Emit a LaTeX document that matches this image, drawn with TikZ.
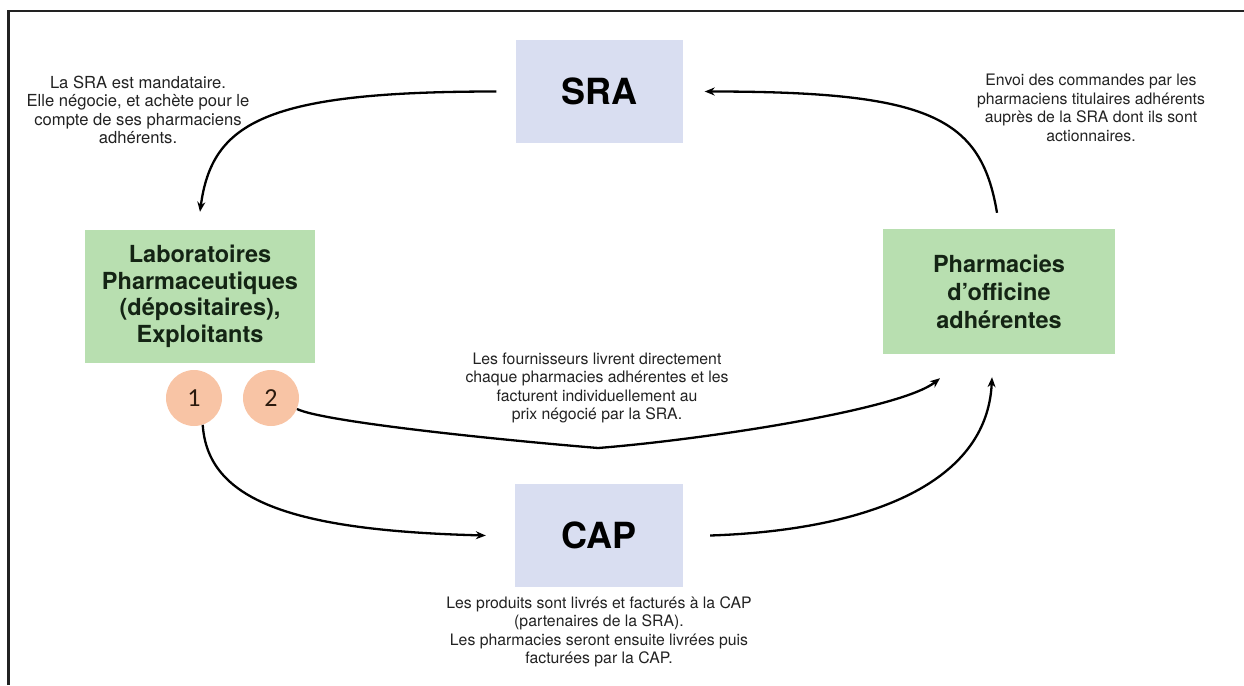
\documentclass[tikz,border=0pt]{standalone}
\usepackage{fontspec}
\setmainfont{TeX Gyre Heros}
\newfontfamily\numfont{Carlito}
\usetikzlibrary{arrows.meta}

\definecolor{lavender}{HTML}{D9DEF1}
\definecolor{leaf}{HTML}{B8DFB0}
\definecolor{peach}{HTML}{F8C4A5}
\definecolor{ink}{HTML}{222222}
\definecolor{boxink}{HTML}{142414}
\definecolor{numink}{HTML}{2B1A0E}

\begin{document}
\begin{tikzpicture}[x=1pt,y=-1pt,
  hub/.style={fill=lavender, inner sep=0pt, minimum width=167pt, minimum height=103pt,
    font=\bfseries\fontsize{36}{40}\selectfont, text=black},
  member/.style={fill=leaf, inner sep=0pt, align=center,
    font=\bfseries\fontsize{23.5}{26.5}\selectfont, text=boxink},
  badge/.style={circle, fill=peach, minimum size=56pt, inner sep=0pt,
    font=\numfont\fontsize{26}{26}\selectfont, text=numink},
  note/.style={align=center, inner sep=0pt, font=\fontsize{15.8}{18.5}\selectfont, text=ink},
  flow/.style={line width=2.3pt, draw=black, -{Stealth[length=10pt,width=8pt]}}]

\useasboundingbox (0,0) rectangle (1244,685);

% page frame (top and left rules)
\draw[line width=2.2pt, draw=ink] (8.5,685) -- (8.5,11) -- (1244,11);

% actors
\node[hub] (sra) at (599,91.5) {SRA};
\node[hub, minimum width=168pt] (cap) at (599,535.5) {CAP};
\node[member, minimum width=230pt, minimum height=133pt] (lab) at (200,296.5)
  {Laboratoires\\Pharmaceutiques\\(dépositaires),\\Exploitants};
\node[member, minimum width=232pt, minimum height=125pt,
  font=\bfseries\fontsize{23.5}{28}\selectfont] (pharm) at (999,291.5)
  {Pharmacies\\d'officine\\adhérentes};
\node[badge] (c1) at (194,398) {1};
\node[badge] (c2) at (271,398) {2};

% explanatory notes
\node[note, font=\fontsize{16.6}{18.5}\selectfont] (n1) at (138,110) {La SRA est mandataire.\\Elle négocie, et achète pour le\\compte de ses pharmaciens\\adhérents.};
\node[note] (n2) at (1091,108) {Envoi des commandes par les\\pharmaciens titulaires adhérents\\auprès de la SRA dont ils sont\\actionnaires.};
\node[note] (n3) at (597,388) {Les fournisseurs livrent directement\\chaque pharmacies adhérentes et les\\facturent individuellement au\\prix négocié par la SRA.};
\node[note] (n4) at (599,632) {Les produits sont livrés et facturés à la CAP\\(partenaires de la SRA).\\Les pharmacies seront ensuite livrées puis\\facturées par la CAP.};

% flows
\coordinate (dip) at (598,448);
\draw[flow] ([xshift=-19pt]sra.west) .. controls +(-230,0) and +(12,-90) .. ([yshift=18pt]lab.north);
\draw[flow] ([xshift=-2pt,yshift=16pt]pharm.north) .. controls +(-16,-96) and +(225,0) .. ([xshift=22pt]sra.east);
\draw[flow] (c1.-72) .. controls +(5,75) and +(-196,-5) .. ([xshift=-29pt]cap.west);
\draw[flow] ([xshift=27pt]cap.east) .. controls +(150,-5) and +(-5,110) .. ([xshift=-7pt,yshift=-23pt]pharm.south);
\draw[flow] (c2.-23) .. controls +(25,12) and +(-120,-10) .. (dip)
  .. controls +(102,-8) and +(-40,32) .. ([xshift=-59pt,yshift=-24pt]pharm.south);
\end{tikzpicture}
\end{document}
